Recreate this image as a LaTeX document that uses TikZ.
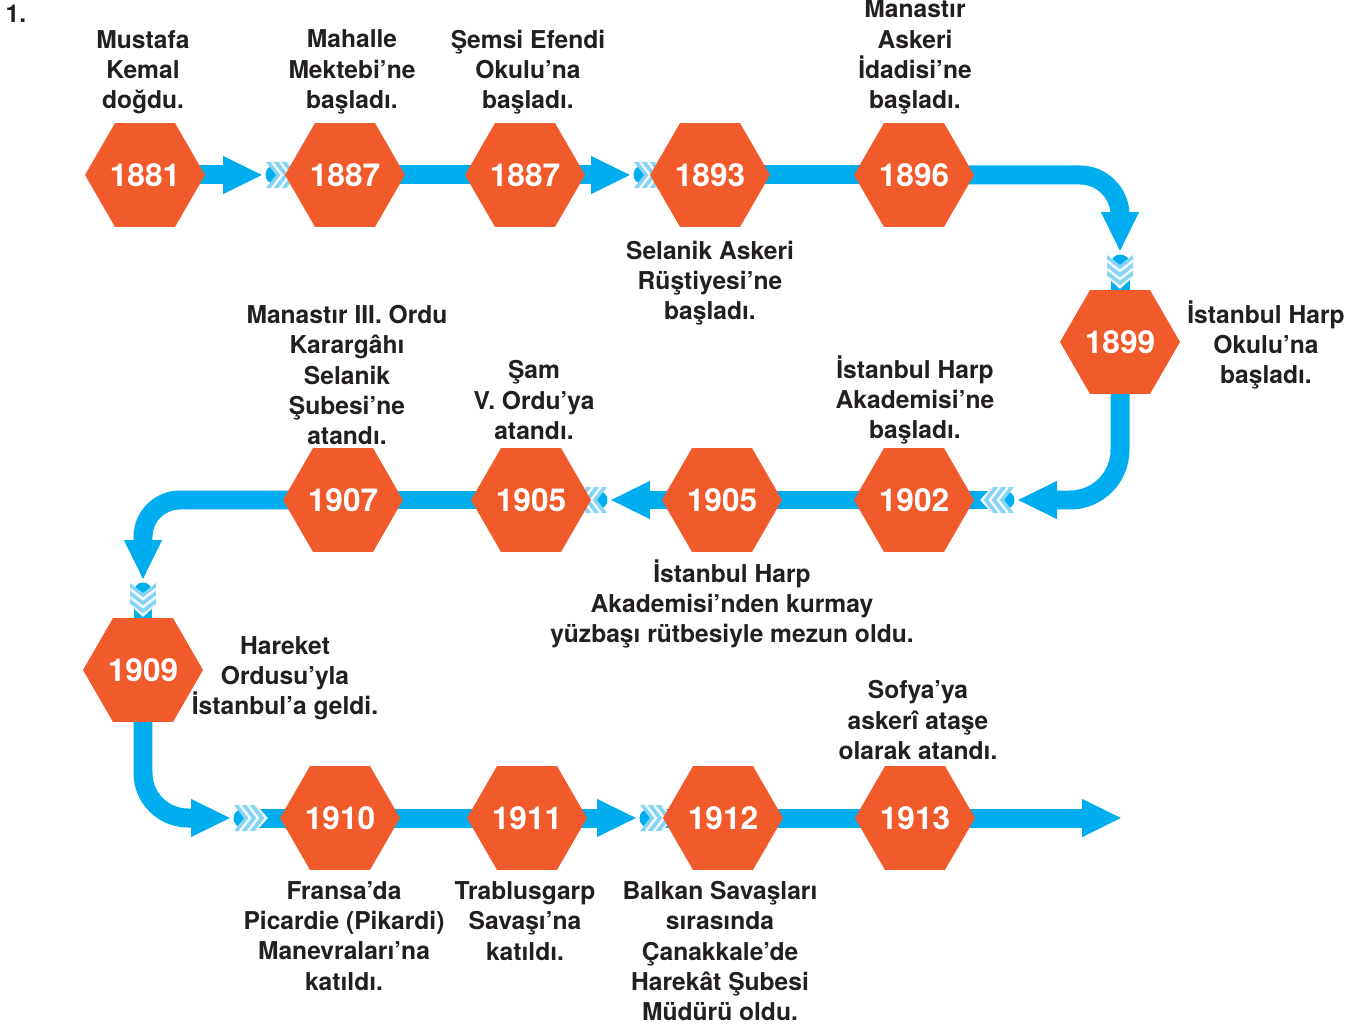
\documentclass[tikz,border=0pt]{standalone}
\usepackage{fontspec}
\setmainfont{TeX Gyre Heros}
\usetikzlibrary{shapes.geometric, arrows.meta, backgrounds}

\definecolor{naranja}{HTML}{F15A2B}
\definecolor{azul}{HTML}{00AEEF}
\definecolor{azulclaro}{HTML}{86D3F4}
\definecolor{texto}{HTML}{231F20}

\tikzset{
  hexagono/.style={regular polygon, regular polygon sides=6,
    fill=naranja, minimum size=2.4cm, inner sep=0pt, outer sep=0pt,
    text=white, font=\fontsize{18}{18}\selectfont\bfseries},
  etiqueta/.style={align=center, inner sep=0pt, text=texto,
    font=\fontsize{14}{17.2}\selectfont\bfseries},
  eje/.style={draw=azul, line width=0.38cm},
  flecha/.style={eje, -{Triangle[length=0.8cm, width=0.7cm]}},
}

% Pluma rayada al inicio de un tramo: #1 punto de la cola, #2 angulo
\newcommand{\pluma}[2]{%
  \begin{scope}[shift={#1}, rotate=#2]
    \clip (0,-13) -- (22,-13) -- (34,0) -- (22,13) -- (0,13) -- (10,0) -- cycle;
    \fill[azulclaro] (-1,-14) rectangle (35,14);
    \foreach \s in {6,14,22}
      \draw[white, line width=0.05cm, opacity=0.85] (\s,-13) -- (\s+10,0) -- (\s,13);
  \end{scope}}

\begin{document}
\begin{tikzpicture}[x=0.02cm, y=-0.02cm]
        % Paso 1: Fija el marco de la figura
        \useasboundingbox (0,0) rectangle (1360,1027);

        % Paso 2: Dibuja los hexagonos de los anos
        \node[hexagono] (h1881)  at (145,175) {1881};
        \node[hexagono] (h1887a) at (345,175) {1887};
        \node[hexagono] (h1887b) at (525,175) {1887};
        \node[hexagono] (h1893)  at (710,175) {1893};
        \node[hexagono] (h1896)  at (914,175) {1896};
        \node[hexagono] (h1899)  at (1120,342) {1899};
        \node[hexagono] (h1902)  at (914,500) {1902};
        \node[hexagono] (h1905b) at (722,500) {1905};
        \node[hexagono] (h1905a) at (531,500) {1905};
        \node[hexagono] (h1907)  at (343,500) {1907};
        \node[hexagono] (h1909)  at (143,670) {1909};
        \node[hexagono] (h1910)  at (340,818) {1910};
        \node[hexagono] (h1911)  at (527,818) {1911};
        \node[hexagono] (h1912)  at (723,818) {1912};
        \node[hexagono] (h1913)  at (915,818) {1913};

        % Paso 3: Escribe los textos de cada ano
        \node[etiqueta] (num)    at (16,14)    {1.};
        \node[etiqueta] (t1881)  at (143,72)   {Mustafa\\Kemal\\doğdu.};
        \node[etiqueta] (t1887a) at (352,72)   {Mahalle\\Mektebi’ne\\başladı.};
        \node[etiqueta] (t1887b) at (528,72)   {Şemsi Efendi\\Okulu’na\\başladı.};
        \node[etiqueta] (t1896)  at (915,57)   {Manastır\\Askeri\\İdadisi’ne\\başladı.};
        \node[etiqueta] (t1893)  at (710,283)  {Selanik Askeri\\Rüştiyesi’ne\\başladı.};
        \node[etiqueta] (t1899)  at (1266,345) {İstanbul Harp\\Okulu’na\\başladı.};
        \node[etiqueta] (t1907)  at (347,375)  {Manastır III. Ordu\\Karargâhı\\Selanik\\Şubesi’ne\\atandı.};
        \node[etiqueta] (t1905a) at (534,400)  {Şam\\V. Ordu’ya\\atandı.};
        \node[etiqueta] (t1902)  at (915,400)  {İstanbul Harp\\Akademisi’ne\\başladı.};
        \node[etiqueta] (t1905b) at (732,604)  {İstanbul Harp\\Akademisi’nden kurmay\\yüzbaşı rütbesiyle mezun oldu.};
        \node[etiqueta] (t1909)  at (285,678)  {Hareket\\Ordusu’yla\\İstanbul’a geldi.};
        \node[etiqueta] (t1913)  at (918,720)  {Sofya’ya\\askerî ataşe\\olarak atandı.};
        \node[etiqueta] (t1910)  at (344,936)  {Fransa’da\\Picardie (Pikardi)\\Manevraları’na\\katıldı.};
        \node[etiqueta] (t1911)  at (525,921)  {Trablusgarp\\Savaşı’na\\katıldı.};
        \node[etiqueta] (t1912)  at (720,951)  {Balkan Savaşları\\sırasında\\Çanakkale’de\\Harekât Şubesi\\Müdürü oldu.};

        % Paso 4: Define puntas de flecha y colas de pluma
        \coordinate (a1) at (263,175);  \coordinate (s1) at (275,175);
        \coordinate (a2) at (631,175);  \coordinate (s2) at (643,175);
        \coordinate (a3) at (1120,252); \coordinate (s3) at (1120,264);
        \coordinate (a4) at (1017,500); \coordinate (s4) at (1005,500);
        \coordinate (a5) at (610,500);  \coordinate (s5) at (598,500);
        \coordinate (a6) at (143,580);  \coordinate (s6) at (143,592);
        \coordinate (a7) at (231,818);  \coordinate (s7) at (243,818);
        \coordinate (a8) at (637,818);  \coordinate (s8) at (649,818);
        \coordinate (a9) at (1122,818);

        \begin{scope}[on background layer]
        % Paso 5: Dibuja los tramos rectos entre hexagonos
        \draw[eje] (h1887a.center) -- (h1887b.center);
        \draw[eje] (h1893.center) -- (h1896.center);
        \draw[eje] (h1902.center) -- (h1905b.center);
        \draw[eje] (h1905a.center) -- (h1907.center);
        \draw[eje] (h1910.center) -- (h1911.center);
        \draw[eje] (h1912.center) -- (h1913.center);

        % Paso 6: Dibuja las flechas y las curvas
        \draw[flecha] (h1881.center) -- (a1);
        \draw[flecha] (h1887b.center) -- (a2);
        \draw[flecha] (h1896.center) -- (1080,175)
             .. controls (1102,175) and (1120,193) .. (1120,215) -- (a3);
        \draw[flecha] (h1899.center) -- (1120,450)
             .. controls (1120,477.6) and (1097.6,500) .. (1070,500) -- (a4);
        \draw[flecha] (h1905b.center) -- (a5);
        \draw[flecha] (h1907.center) -- (180,500)
             .. controls (159.6,500) and (143,516.4) .. (143,537) -- (a6);
        \draw[flecha] (h1909.center) -- (143,773)
             .. controls (143,797.9) and (163.1,818) .. (188,818) -- (a7);
        \draw[flecha] (h1911.center) -- (a8);
        \draw[flecha] (h1913.center) -- (a9);

        % Paso 7: Dibuja los tramos que salen de cada pluma
        \draw[eje, line cap=round] (s1) -- (h1887a.center);
        \draw[eje, line cap=round] (s2) -- (h1893.center);
        \draw[eje, line cap=round] (s3) -- (h1899.center);
        \draw[eje, line cap=round] (s4) -- (h1902.center);
        \draw[eje, line cap=round] (s5) -- (h1905a.center);
        \draw[eje, line cap=round] (s6) -- (h1909.center);
        \draw[eje, line cap=round] (s7) -- (h1910.center);
        \draw[eje, line cap=round] (s8) -- (h1912.center);

        % Paso 8: Dibuja las plumas rayadas
        \pluma{(266,175)}{0}
        \pluma{(634,175)}{0}
        \pluma{(1120,255)}{-90}
        \pluma{(1014,500)}{180}
        \pluma{(607,500)}{180}
        \pluma{(143,583)}{-90}
        \pluma{(234,818)}{0}
        \pluma{(640,818)}{0}
        \end{scope}
\end{tikzpicture}
\end{document}
